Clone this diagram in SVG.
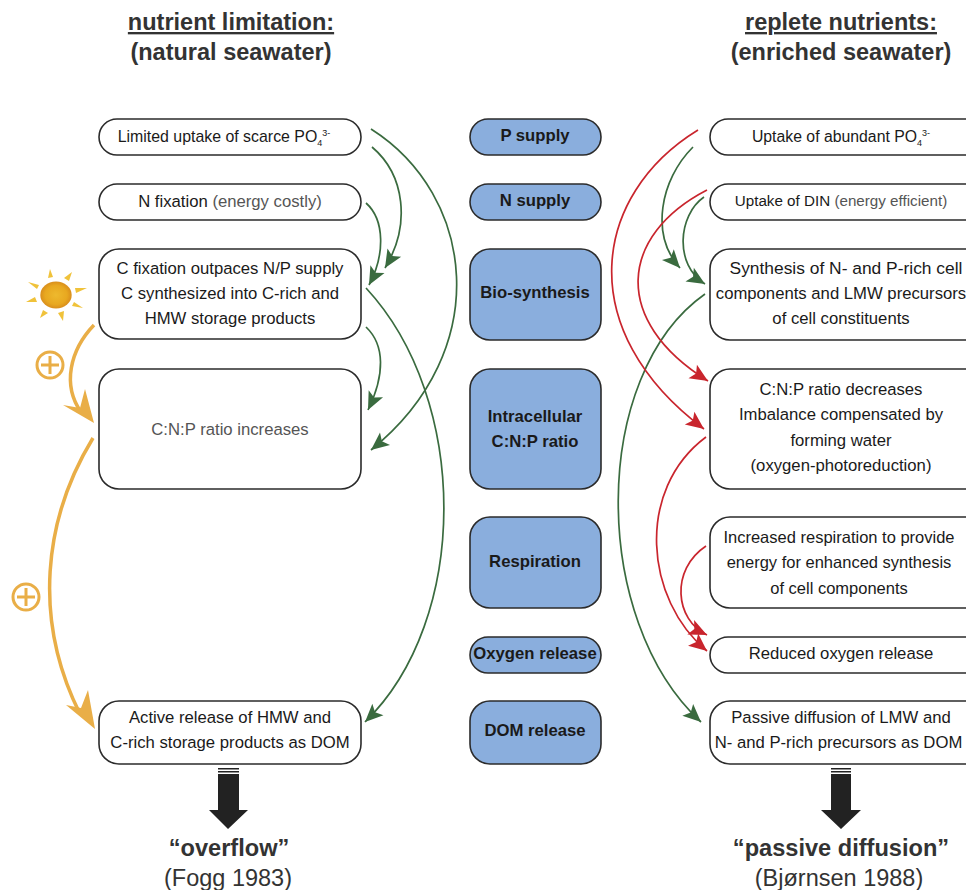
<svg xmlns="http://www.w3.org/2000/svg" width="966" height="890" viewBox="0 0 966 890">
<style>
text{font-family:"Liberation Sans",Arial,sans-serif;fill:#1a1a1a;text-anchor:middle}
.t{font-size:16.7px}
.g{fill:#555}
.c{font-size:16.7px;font-weight:bold}
.h{font-size:23.5px;font-weight:bold;fill:#333}
.s{font-size:23.6px;font-weight:bold;fill:#333}
.r{font-size:23.5px;fill:#333}
.n{fill:#fff;stroke:#2b2b2b;stroke-width:1.6}
.b{fill:#8aaedd;stroke:#2b2b2b;stroke-width:1.6}
.gr{fill:none;stroke:#3a6b3f;stroke-width:1.7;marker-end:url(#mg)}
.rd{fill:none;stroke:#c9252d;stroke-width:1.7;marker-end:url(#mr)}
.or{fill:none;stroke:#e9ae47;stroke-width:3.5}
.pl{fill:none;stroke:#e9ae47;stroke-width:3}
</style>
<defs>
<marker id="mg" markerUnits="userSpaceOnUse" markerWidth="22" markerHeight="18" viewBox="0 0 22 18" refX="20" refY="9" orient="auto"><path d="M20,9L2,1L6,9L2,17Z" fill="#3a6b3f"/></marker>
<marker id="mr" markerUnits="userSpaceOnUse" markerWidth="22" markerHeight="18" viewBox="0 0 22 18" refX="20" refY="9" orient="auto"><path d="M20,9L2,1L6,9L2,17Z" fill="#c9252d"/></marker>
<radialGradient id="sun"><stop offset="0" stop-color="#eeb92e"/><stop offset="0.7" stop-color="#e8a820"/><stop offset="1" stop-color="#d98e1c"/></radialGradient>
</defs>

<g id="headings">
<text class="h" x="231" y="30" text-decoration="underline">nutrient limitation:</text>
<text class="h" x="231" y="60">(natural seawater)</text>
<text class="h" x="841" y="30" text-decoration="underline">replete nutrients:</text>
<text class="h" x="841" y="60">(enriched seawater)</text>
</g>

<g id="connectors">
<path class="gr" d="M372,147C405,175 411,225 385,268"/>
<path class="gr" d="M366,203C385,220 385,255 369,285"/>
<path class="gr" d="M366,327C385,345 385,375 368,410"/>
<path class="gr" d="M371,129C475,195 495,350 371,450"/>
<path class="gr" d="M366,288C470,400 470,620 365,722"/>
<path class="gr" d="M693,147C660,180 650,235 680,268"/>
<path class="gr" d="M704,197C678,215 674,265 705,284"/>
<path class="gr" d="M705,294C590,375 590,620 701,722"/>
<path class="rd" d="M698,130C592,195 572,330 704,429"/>
<path class="rd" d="M707,190C620,235 610,320 708,381"/>
<path class="rd" d="M706,437C635,490 645,600 707,651"/>
<path class="rd" d="M706,546C670,570 675,620 707,635"/>
<path class="or" d="M94,325C70,350 62,385 81,412"/>
<path d="M94,423L63,405L80,408L85,389Z" fill="#e9ae47"/>
<path class="or" d="M93,438C43,520 33,620 80,714"/>
<path d="M95,729L66,705L81,708L88,690Z" fill="#e9ae47"/>
</g>

<g id="plus1"><circle class="pl" cx="50" cy="365" r="13"/><path class="pl" d="M41,365H59M50,356V374"/></g>
<g id="plus2"><circle class="pl" cx="26" cy="597" r="13"/><path class="pl" d="M17,597H35M26,588V606"/></g>

<g id="sun-icon">
<ellipse cx="56" cy="295" rx="15.7" ry="13.5" fill="url(#sun)"/>
<g fill="#f0c23a">
<path d="M50,269L53,277L48,278Z"/>
<path d="M72,272L69,281L64,278Z"/>
<path d="M87,288L76,293L75,288Z"/>
<path d="M83,308L72,306L74,302Z"/>
<path d="M63,321L58,313L64,311Z"/>
<path d="M40,318L43,310L48,313Z"/>
<path d="M26,302L35,297L37,302Z"/>
<path d="M28,282L39,285L37,289Z"/>
</g>
</g>

<g id="l1"><rect class="n" x="99" y="119" width="262" height="36" rx="18"/><text class="t" style="font-size:15.9px" x="224" y="142">Limited uptake of scarce PO<tspan font-size="9" dy="4">4</tspan><tspan font-size="9" dy="-10">3-</tspan></text></g>
<g id="l2"><rect class="n" x="99" y="184" width="262" height="36" rx="18"/><text class="t" x="230" y="207">N fixation <tspan class="g">(energy costly)</tspan></text></g>
<g id="l3"><rect class="n" x="99" y="249" width="262" height="90" rx="20"/><text class="t" x="230" y="274">C fixation outpaces N/P supply</text><text class="t" x="230" y="299">C synthesized into C-rich and</text><text class="t" x="230" y="324">HMW storage products</text></g>
<g id="l4"><rect class="n" x="99" y="369" width="262" height="120" rx="20"/><text class="t g" x="230" y="435">C:N:P ratio increases</text></g>
<g id="l5"><rect class="n" x="99" y="701" width="262" height="63" rx="20"/><text class="t" x="230" y="723">Active release of HMW and</text><text class="t" x="230" y="748">C-rich storage products as DOM</text></g>

<g id="c1"><rect class="b" x="470" y="119" width="131" height="36" rx="18"/><text class="c" x="535" y="141">P supply</text></g>
<g id="c2"><rect class="b" x="470" y="184" width="131" height="36" rx="18"/><text class="c" x="535" y="206">N supply</text></g>
<g id="c3"><rect class="b" x="470" y="249" width="131" height="91" rx="20"/><text class="c" x="535" y="298">Bio-synthesis</text></g>
<g id="c4"><rect class="b" x="470" y="369" width="131" height="120" rx="20"/><text class="c" x="535" y="422">Intracellular</text><text class="c" x="535" y="447">C:N:P ratio</text></g>
<g id="c5"><rect class="b" x="470" y="517" width="131" height="91" rx="20"/><text class="c" x="535" y="567">Respiration</text></g>
<g id="c6"><rect class="b" x="470" y="637" width="131" height="36" rx="18"/><text class="c" x="535" y="659">Oxygen release</text></g>
<g id="c7"><rect class="b" x="470" y="701" width="131" height="63" rx="20"/><text class="c" x="535" y="736">DOM release</text></g>

<g id="r1"><rect class="n" x="710" y="119" width="290" height="36" rx="18"/><text class="t" style="font-size:15.8px" x="841" y="142">Uptake of abundant PO<tspan font-size="9" dy="4">4</tspan><tspan font-size="9" dy="-10">3-</tspan></text></g>
<g id="r2"><rect class="n" x="710" y="184" width="290" height="36" rx="18"/><text class="t" style="font-size:15.2px" x="841" y="206">Uptake of DIN <tspan class="g">(energy efficient)</tspan></text></g>
<g id="r3"><rect class="n" x="710" y="249" width="290" height="91" rx="20"/><text class="t" style="font-size:17.4px" x="846" y="274">Synthesis of N- and P-rich cell</text><text class="t" x="841" y="299">components and LMW precursors</text><text class="t" x="841" y="324">of cell constituents</text></g>
<g id="r4"><rect class="n" x="710" y="369" width="290" height="120" rx="20"/><text class="t" x="841" y="395">C:N:P ratio decreases</text><text class="t" x="841" y="420">Imbalance compensated by</text><text class="t" x="841" y="446">forming water</text><text class="t" x="841" y="471">(oxygen-photoreduction)</text></g>
<g id="r5"><rect class="n" x="710" y="517" width="290" height="91" rx="20"/><text class="t" style="font-size:16.5px" x="839" y="543">Increased respiration to provide</text><text class="t" style="font-size:16.5px" x="839" y="568">energy for enhanced synthesis</text><text class="t" style="font-size:16.5px" x="839" y="594">of cell components</text></g>
<g id="r6"><rect class="n" x="710" y="637" width="290" height="36" rx="18"/><text class="t" x="841" y="659">Reduced oxygen release</text></g>
<g id="r7"><rect class="n" x="710" y="701" width="290" height="63" rx="20"/><text class="t" x="841" y="723">Passive diffusion of LMW and</text><text class="t" x="838.5" y="748">N- and P-rich precursors as DOM</text></g>

<g id="arrow-left"><path d="M218,768H239V769.5H218ZM218,771H239V772.5H218ZM218,774H239V810H248L228,829L209,810H218Z" fill="#222"/></g>
<g id="arrow-right"><path d="M831,768H851V769.5H831ZM831,771H851V772.5H831ZM831,774H851V810H861L841,829L821,810H831Z" fill="#222"/></g>

<g id="outcomes">
<text class="s" x="229" y="856">“overflow”</text>
<text class="r" x="228" y="886">(Fogg 1983)</text>
<text class="s" x="841" y="856">“passive diffusion”</text>
<text class="r" x="839" y="886">(Bjørnsen 1988)</text>
</g>
</svg>
